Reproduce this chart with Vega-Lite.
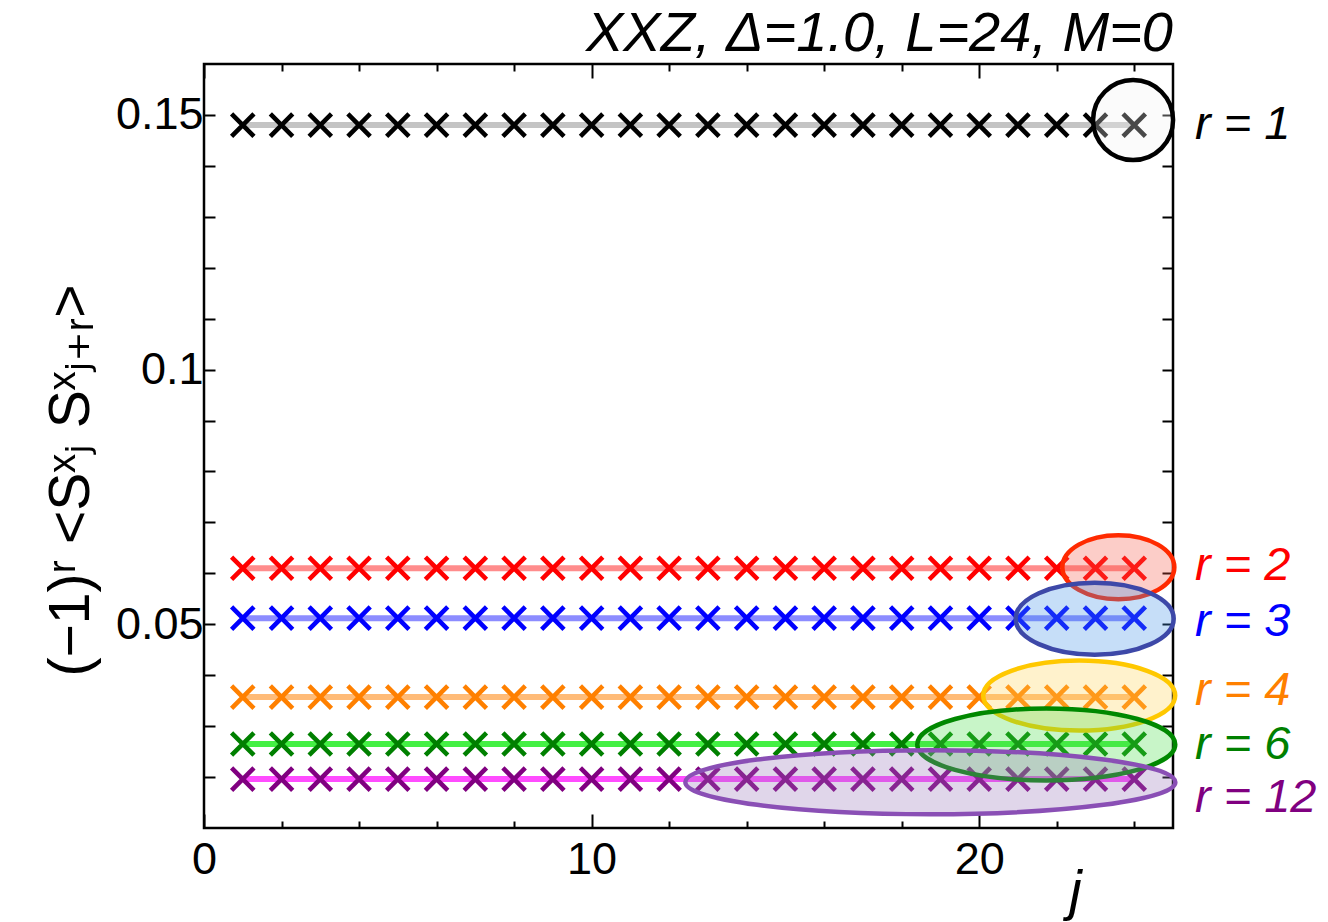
{
  "$schema": "https://vega.github.io/schema/vega-lite/v6.json",
  "autosize": {"type": "none"},
  "padding": {"left": 204, "top": 64, "right": 155, "bottom": 94},
  "width": 969,
  "height": 764,
  "background": "white",
  "title": {
    "text": "XXZ, Δ=1.0, L=24, M=0",
    "anchor": "end",
    "frame": "group",
    "font": "Liberation Sans",
    "fontSize": 56,
    "fontStyle": "italic",
    "fontWeight": "normal",
    "color": "black",
    "baseline": "alphabetic",
    "offset": 13,
    "dy": 57
  },
  "config": {
    "view": {"stroke": "black", "strokeWidth": 2.5},
    "axis": {
      "domain": false,
      "grid": false,
      "tickColor": "black",
      "tickWidth": 2,
      "labelColor": "black",
      "labelFont": "Liberation Sans",
      "labelFontSize": 45,
      "titleColor": "black"
    }
  },
  "datasets": {
    "pts": [
      {"j":1,"r":1,"v":0.148},{"j":2,"r":1,"v":0.148},{"j":3,"r":1,"v":0.148},{"j":4,"r":1,"v":0.148},{"j":5,"r":1,"v":0.148},{"j":6,"r":1,"v":0.148},{"j":7,"r":1,"v":0.148},{"j":8,"r":1,"v":0.148},{"j":9,"r":1,"v":0.148},{"j":10,"r":1,"v":0.148},{"j":11,"r":1,"v":0.148},{"j":12,"r":1,"v":0.148},{"j":13,"r":1,"v":0.148},{"j":14,"r":1,"v":0.148},{"j":15,"r":1,"v":0.148},{"j":16,"r":1,"v":0.148},{"j":17,"r":1,"v":0.148},{"j":18,"r":1,"v":0.148},{"j":19,"r":1,"v":0.148},{"j":20,"r":1,"v":0.148},{"j":21,"r":1,"v":0.148},{"j":22,"r":1,"v":0.148},{"j":23,"r":1,"v":0.148},{"j":24,"r":1,"v":0.148},
      {"j":1,"r":2,"v":0.061},{"j":2,"r":2,"v":0.061},{"j":3,"r":2,"v":0.061},{"j":4,"r":2,"v":0.061},{"j":5,"r":2,"v":0.061},{"j":6,"r":2,"v":0.061},{"j":7,"r":2,"v":0.061},{"j":8,"r":2,"v":0.061},{"j":9,"r":2,"v":0.061},{"j":10,"r":2,"v":0.061},{"j":11,"r":2,"v":0.061},{"j":12,"r":2,"v":0.061},{"j":13,"r":2,"v":0.061},{"j":14,"r":2,"v":0.061},{"j":15,"r":2,"v":0.061},{"j":16,"r":2,"v":0.061},{"j":17,"r":2,"v":0.061},{"j":18,"r":2,"v":0.061},{"j":19,"r":2,"v":0.061},{"j":20,"r":2,"v":0.061},{"j":21,"r":2,"v":0.061},{"j":22,"r":2,"v":0.061},{"j":23,"r":2,"v":0.061},{"j":24,"r":2,"v":0.061},
      {"j":1,"r":3,"v":0.0512},{"j":2,"r":3,"v":0.0512},{"j":3,"r":3,"v":0.0512},{"j":4,"r":3,"v":0.0512},{"j":5,"r":3,"v":0.0512},{"j":6,"r":3,"v":0.0512},{"j":7,"r":3,"v":0.0512},{"j":8,"r":3,"v":0.0512},{"j":9,"r":3,"v":0.0512},{"j":10,"r":3,"v":0.0512},{"j":11,"r":3,"v":0.0512},{"j":12,"r":3,"v":0.0512},{"j":13,"r":3,"v":0.0512},{"j":14,"r":3,"v":0.0512},{"j":15,"r":3,"v":0.0512},{"j":16,"r":3,"v":0.0512},{"j":17,"r":3,"v":0.0512},{"j":18,"r":3,"v":0.0512},{"j":19,"r":3,"v":0.0512},{"j":20,"r":3,"v":0.0512},{"j":21,"r":3,"v":0.0512},{"j":22,"r":3,"v":0.0512},{"j":23,"r":3,"v":0.0512},{"j":24,"r":3,"v":0.0512},
      {"j":1,"r":4,"v":0.0357},{"j":2,"r":4,"v":0.0357},{"j":3,"r":4,"v":0.0357},{"j":4,"r":4,"v":0.0357},{"j":5,"r":4,"v":0.0357},{"j":6,"r":4,"v":0.0357},{"j":7,"r":4,"v":0.0357},{"j":8,"r":4,"v":0.0357},{"j":9,"r":4,"v":0.0357},{"j":10,"r":4,"v":0.0357},{"j":11,"r":4,"v":0.0357},{"j":12,"r":4,"v":0.0357},{"j":13,"r":4,"v":0.0357},{"j":14,"r":4,"v":0.0357},{"j":15,"r":4,"v":0.0357},{"j":16,"r":4,"v":0.0357},{"j":17,"r":4,"v":0.0357},{"j":18,"r":4,"v":0.0357},{"j":19,"r":4,"v":0.0357},{"j":20,"r":4,"v":0.0357},{"j":21,"r":4,"v":0.0357},{"j":22,"r":4,"v":0.0357},{"j":23,"r":4,"v":0.0357},{"j":24,"r":4,"v":0.0357},
      {"j":1,"r":6,"v":0.0265},{"j":2,"r":6,"v":0.0265},{"j":3,"r":6,"v":0.0265},{"j":4,"r":6,"v":0.0265},{"j":5,"r":6,"v":0.0265},{"j":6,"r":6,"v":0.0265},{"j":7,"r":6,"v":0.0265},{"j":8,"r":6,"v":0.0265},{"j":9,"r":6,"v":0.0265},{"j":10,"r":6,"v":0.0265},{"j":11,"r":6,"v":0.0265},{"j":12,"r":6,"v":0.0265},{"j":13,"r":6,"v":0.0265},{"j":14,"r":6,"v":0.0265},{"j":15,"r":6,"v":0.0265},{"j":16,"r":6,"v":0.0265},{"j":17,"r":6,"v":0.0265},{"j":18,"r":6,"v":0.0265},{"j":19,"r":6,"v":0.0265},{"j":20,"r":6,"v":0.0265},{"j":21,"r":6,"v":0.0265},{"j":22,"r":6,"v":0.0265},{"j":23,"r":6,"v":0.0265},{"j":24,"r":6,"v":0.0265},
      {"j":1,"r":12,"v":0.0196},{"j":2,"r":12,"v":0.0196},{"j":3,"r":12,"v":0.0196},{"j":4,"r":12,"v":0.0196},{"j":5,"r":12,"v":0.0196},{"j":6,"r":12,"v":0.0196},{"j":7,"r":12,"v":0.0196},{"j":8,"r":12,"v":0.0196},{"j":9,"r":12,"v":0.0196},{"j":10,"r":12,"v":0.0196},{"j":11,"r":12,"v":0.0196},{"j":12,"r":12,"v":0.0196},{"j":13,"r":12,"v":0.0196},{"j":14,"r":12,"v":0.0196},{"j":15,"r":12,"v":0.0196},{"j":16,"r":12,"v":0.0196},{"j":17,"r":12,"v":0.0196},{"j":18,"r":12,"v":0.0196},{"j":19,"r":12,"v":0.0196},{"j":20,"r":12,"v":0.0196},{"j":21,"r":12,"v":0.0196},{"j":22,"r":12,"v":0.0196},{"j":23,"r":12,"v":0.0196},{"j":24,"r":12,"v":0.0196}
    ],
    "ell": [
      {"r":1,"x":23.97,"y":0.149},
      {"r":2,"x":23.59,"y":0.0612},
      {"r":3,"x":22.98,"y":0.0511},
      {"r":4,"x":22.58,"y":0.036},
      {"r":6,"x":21.73,"y":0.0264},
      {"r":12,"x":18.74,"y":0.019}
    ],
    "lab": [
      {"r":1,"t":"r = 1","y":0.148},
      {"r":2,"t":"r = 2","y":0.0615},
      {"r":3,"t":"r = 3","y":0.0505},
      {"r":4,"t":"r = 4","y":0.0368},
      {"r":6,"t":"r = 6","y":0.0262},
      {"r":12,"t":"r = 12","y":0.0159}
    ]
  },
  "resolve": {
    "axis": {"x": "independent", "y": "independent"},
    "scale": {"stroke": "independent", "fill": "independent", "color": "independent", "shape": "independent"}
  },
  "layer": [
    {
      "data": {"name": "pts"},
      "mark": {"type": "line", "strokeWidth": 6, "opacity": 1},
      "encoding": {
        "x": {"field": "j", "type": "quantitative",
          "scale": {"domain": [0, 25], "nice": false, "zero": false},
          "axis": {"orient": "top", "values": [2,4,6,8,12,14,16,18,22,24], "labels": false, "tickSize": -7, "title": null}},
        "y": {"field": "v", "type": "quantitative",
          "scale": {"domain": [0.01, 0.16], "nice": false, "zero": false},
          "axis": {"orient": "right", "values": [0.02,0.03,0.04,0.05,0.06,0.07,0.08,0.09,0.1,0.11,0.12,0.13,0.14,0.15], "labels": false, "tickSize": -11, "title": null}},
        "detail": {"field": "r", "type": "nominal"},
        "stroke": {"field": "r", "type": "nominal", "legend": null,
          "scale": {"domain": [1,2,3,4,6,12], "range": ["#c4c4c4", "#ff8c8c", "#8c8cff", "#ffbb77", "#44f044", "#ff4cff"]}}
      }
    },
    {
      "data": {"name": "pts"},
      "mark": {"type": "point", "filled": false, "shape": "M-1,-1L1,1M-1,1L1,-1", "size": 500, "strokeWidth": 4.6, "opacity": 1},
      "encoding": {
        "x": {"field": "j", "type": "quantitative",
          "axis": {"orient": "bottom", "values": [0, 10, 20], "tickSize": -14, "labelPadding": 23, "labelFlush": false,
            "title": "j", "titleFont": "Liberation Sans", "titleFontSize": 56, "titleFontStyle": "italic", "titleFontWeight": "normal",
            "titleX": 871, "titleY": 80, "titleAlign": "center", "titleBaseline": "alphabetic"}},
        "y": {"field": "v", "type": "quantitative",
          "axis": {"orient": "left", "values": [0.02,0.03,0.04,0.05,0.06,0.07,0.08,0.09,0.1,0.11,0.12,0.13,0.14,0.15], "tickSize": -11, "labelPadding": 12, "labelFlush": false,
            "labelExpr": "datum.value == 0.05 ? '0.05' : datum.value == 0.1 ? '0.1' : datum.value == 0.15 ? '0.15' : ''",
            "title": "(−1)ʳ <Sˣⱼ Sˣⱼ₊ᵣ>", "titleFont": "Liberation Sans, DejaVu Sans", "titleFontSize": 57, "titleFontWeight": "normal",
            "titleAngle": 270, "titleX": -116, "titleY": 416, "titleAlign": "center", "titleBaseline": "alphabetic"}},
        "stroke": {"field": "r", "type": "nominal", "legend": null,
          "scale": {"domain": [1,2,3,4,6,12], "range": ["#000000", "#ff0000", "#0000ff", "#ff8000", "#008000", "#800080"]}}
      }
    },
    {
      "data": {"name": "ell"},
      "mark": {"type": "point", "filled": true, "size": 4, "strokeWidth": 4.5, "opacity": 1, "fillOpacity": 0.3, "strokeOpacity": 1},
      "encoding": {
        "x": {"field": "x", "type": "quantitative",
          "axis": {"orient": "bottom", "values": [2,4,6,8,12,14,16,18,22,24], "labels": false, "tickSize": -7, "title": null}},
        "y": {"field": "y", "type": "quantitative", "axis": null},
        "shape": {"field": "r", "type": "nominal", "legend": null,
          "scale": {"domain": [1,2,3,4,6,12], "range": [
            "M-40 0A40 40 0 1 0 40 0A40 40 0 1 0 -40 0Z",
            "M-56 0A56 32 0 1 0 56 0A56 32 0 1 0 -56 0Z",
            "M-79 0A79 36 0 1 0 79 0A79 36 0 1 0 -79 0Z",
            "M-96 0A96 35 0 1 0 96 0A96 35 0 1 0 -96 0Z",
            "M-129 0A129 36 0 1 0 129 0A129 36 0 1 0 -129 0Z",
            "M-245 0A245 32 0 1 0 245 0A245 32 0 1 0 -245 0Z"]}},
        "fill": {"field": "r", "type": "nominal", "legend": null,
          "scale": {"domain": [1,2,3,4,6,12], "range": ["#f2f2f2", "#f55848", "#4191e8", "#ffd455", "#48de48", "#9876b9"]}},
        "stroke": {"field": "r", "type": "nominal", "legend": null,
          "scale": {"domain": [1,2,3,4,6,12], "range": ["#000000", "#ff2a00", "#3d48a8", "#ffc800", "#008800", "#8a4fb5"]}}
      }
    },
    {
      "data": {"name": "lab"},
      "mark": {"type": "text", "align": "left", "baseline": "middle", "dx": 22, "font": "Liberation Sans", "fontSize": 47, "fontStyle": "italic"},
      "encoding": {
        "x": {"datum": 25, "type": "quantitative",
          "axis": {"orient": "top", "values": [0, 10, 20], "labels": false, "tickSize": -14, "title": null}},
        "y": {"field": "y", "type": "quantitative", "axis": null},
        "text": {"field": "t", "type": "nominal"},
        "color": {"field": "r", "type": "nominal", "legend": null,
          "scale": {"domain": [1,2,3,4,6,12], "range": ["#000000", "#ff0000", "#0000ff", "#ff8000", "#008000", "#800080"]}}
      }
    }
  ]
}
